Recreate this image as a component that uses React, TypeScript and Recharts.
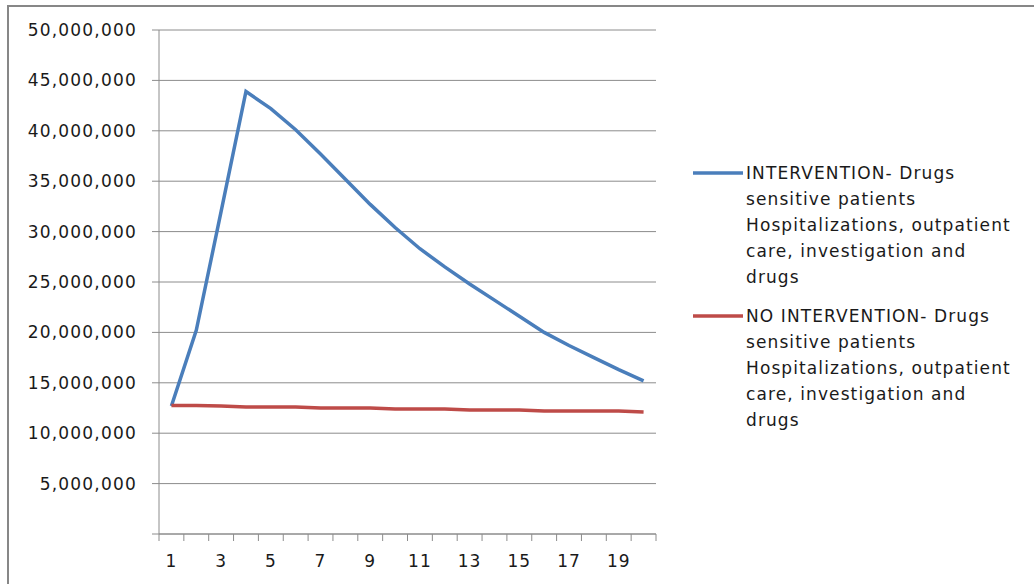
import React from "react";
import { LineChart, Line, XAxis, YAxis, CartesianGrid, Legend } from "recharts";

// year index 1..20
const periods = [1, 2, 3, 4, 5, 6, 7, 8, 9, 10, 11, 12, 13, 14, 15, 16, 17, 18, 19, 20];

const intervention = [
  12700000, 20200000, 32000000, 43900000, 42200000, 40100000, 37700000, 35200000, 32700000, 30400000,
  28300000, 26500000, 24800000, 23200000, 21600000, 20000000, 18700000, 17500000, 16300000, 15200000,
];

const noIntervention = [
  12750000, 12750000, 12700000, 12600000, 12600000, 12600000, 12500000, 12500000, 12500000, 12400000,
  12400000, 12400000, 12300000, 12300000, 12300000, 12200000, 12200000, 12200000, 12200000, 12100000,
];

const yTicks = [0, 5000000, 10000000, 15000000, 20000000, 25000000, 30000000, 35000000, 40000000, 45000000, 50000000];
const xLabelTicks = [1, 3, 5, 7, 9, 11, 13, 15, 17, 19];
const xMarkTicks = [0.5, 1.5, 2.5, 3.5, 4.5, 5.5, 6.5, 7.5, 8.5, 9.5, 10.5, 11.5, 12.5, 13.5, 14.5, 15.5, 16.5, 17.5, 18.5, 19.5, 20.5];

const NAME_A = "INTERVENTION- Drugs\nsensitive patients\nHospitalizations, outpatient\ncare, investigation and\ndrugs";
const NAME_B = "NO INTERVENTION- Drugs\nsensitive patients\nHospitalizations, outpatient\ncare, investigation and\ndrugs";

const FONT = "'DejaVu Sans', sans-serif";
const GRID = "#8c8c8c";
const TEXT = "#1a1a1a";

const data = periods.map((p, i) => ({ period: p, a: intervention[i], b: noIntervention[i] }));

function XTick(props: any) {
  const { x, y, payload } = props;
  const v = payload.value as number;
  if (xMarkTicks.includes(v)) {
    return <line x1={x} x2={x} y1={y - 7} y2={y} stroke={GRID} strokeWidth={1} />;
  }
  return (
    <text x={x} y={y + 26} textAnchor="middle" fill={TEXT} fontSize={17} fontFamily={FONT} letterSpacing={1}>
      {v}
    </text>
  );
}

function LegendBox(props: any) {
  const payload = props.payload || [];
  return (
    <div style={{ fontFamily: FONT, fontSize: 17, letterSpacing: 1.1, color: TEXT }}>
      {payload.map((p: any, i: number) => (
        <div key={i} style={{ display: "flex", marginBottom: 13 }}>
          <svg width={54} height={26} style={{ flex: "none" }}>
            <line x1={1} x2={51} y1={13} y2={13} stroke={p.color} strokeWidth={3.5} />
          </svg>
          <div style={{ whiteSpace: "pre-line", lineHeight: "26px" }}>{p.value}</div>
        </div>
      ))}
    </div>
  );
}

export default function App() {
  return (
    <div style={{ position: "absolute", left: 0, top: 0, width: 1034, height: 584, overflow: "hidden", background: "#fff" }}>
      <div
        style={{
          position: "absolute",
          left: 7,
          top: 5,
          width: 1100,
          height: 700,
          borderTop: "2px solid #878787",
          borderLeft: "2px solid #878787",
        }}
      />
      <div style={{ position: "absolute", left: 0, top: 0 }}>
        <LineChart width={1034} height={584} data={data} margin={{ top: 30, right: 378, bottom: 0, left: 0 }}>
          <CartesianGrid vertical={false} stroke={GRID} strokeWidth={1} />
          <XAxis
            dataKey="period"
            type="number"
            domain={[0.5, 20.5]}
            ticks={[...xMarkTicks, ...xLabelTicks].sort((m, n) => m - n)}
            interval={0}
            height={50}
            tickSize={7}
            tickMargin={0}
            tickLine={false}
            axisLine={{ stroke: GRID }}
            tick={<XTick />}
          />
          <YAxis
            domain={[0, 50000000]}
            ticks={yTicks}
            interval={0}
            width={159}
            tickSize={7}
            tickMargin={15}
            tickLine={{ stroke: GRID }}
            axisLine={{ stroke: GRID }}
            tick={{ fontSize: 17, fill: TEXT, fontFamily: FONT, letterSpacing: 1.2 }}
            tickFormatter={(v: number) => (v === 0 ? "" : v.toLocaleString("en-US"))}
          />
          <Legend
            layout="horizontal"
            verticalAlign="middle"
            align="center"
            content={<LegendBox />}
            wrapperStyle={{ left: 692, top: 160, width: 342 }}
          />
          <Line
            type="linear"
            dataKey="a"
            name={NAME_A}
            stroke="#4a7ebb"
            strokeWidth={3.5}
            dot={false}
            isAnimationActive={false}
          />
          <Line
            type="linear"
            dataKey="b"
            name={NAME_B}
            stroke="#be4b48"
            strokeWidth={3.5}
            dot={false}
            isAnimationActive={false}
          />
        </LineChart>
      </div>
    </div>
  );
}
